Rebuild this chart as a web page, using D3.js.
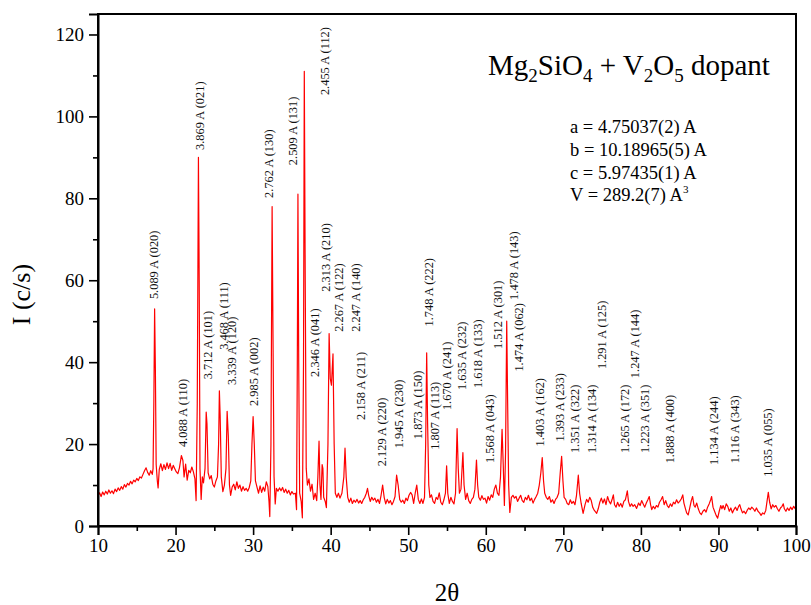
<!DOCTYPE html>
<html>
<head>
<meta charset="utf-8">
<script src="https://cdn.jsdelivr.net/npm/d3@7"></script>
<style>
  body { margin: 0; background: #fff; }
  svg { display: block; }
  svg text { font-family: "Liberation Serif", "Times New Roman", serif; }
</style>
</head>
<body>
<svg id="chart"></svg>
<script>
// XRD scan: [2theta, I (c/s)]
const scan = [
  [10.0,7.4],[10.2,8.1],[10.4,7.2],[10.6,8.3],[10.8,7.6],[11.0,8.5],[11.2,7.8],[11.4,8.8],[11.6,8.0],[11.8,8.6],
  [12.0,7.9],[12.2,9.0],[12.4,8.4],[12.6,9.3],[12.8,8.7],[13.0,9.6],[13.2,9.0],[13.4,10.1],[13.6,9.5],[13.8,10.4],
  [14.0,10.0],[14.2,10.9],[14.4,10.3],[14.6,11.2],[14.8,10.8],[15.0,11.6],[15.2,11.1],[15.4,12.0],[15.6,11.7],[15.8,12.6],
  [16.0,13.5],[16.2,14.2],[16.4,13.1],[16.6,12.4],[16.8,13.5],[17.0,12.6],[17.1,14],[17.2,30],[17.3,53],[17.4,38],
  [17.5,15],[17.65,11],[17.75,9.3],[17.9,13.8],[18.1,15.2],[18.3,13.5],[18.5,15.0],[18.7,13.8],[18.9,15.4],[19.1,14.0],
  [19.3,15.3],[19.5,13.6],[19.7,14.8],[19.9,14.0],[20.1,13.2],[20.3,12.8],[20.5,14.2],[20.75,17.2],[20.95,16.0],[21.1,12.0],
  [21.3,15.1],[21.5,11.2],[21.7,13.6],[21.9,13.0],[22.1,14.4],[22.3,13.2],[22.5,11.5],[22.65,6.2],[22.8,30],[22.95,90],
  [23.05,60],[23.15,14],[23.3,6.5],[23.45,12],[23.6,10.5],[23.8,14],[23.95,27.8],[24.05,25],[24.2,13],[24.4,11.5],
  [24.6,12.3],[24.8,10.2],[25.0,9.5],[25.2,11],[25.4,12],[25.55,20],[25.65,33],[25.75,27],[25.9,12],[26.1,8.4],
  [26.3,10],[26.5,14],[26.65,28],[26.8,22],[26.95,10],[27.1,7.5],[27.3,9.5],[27.5,10.2],[27.7,8.8],[27.9,10.8],
  [28.1,9.2],[28.3,10.0],[28.5,8.5],[28.7,9.6],[28.9,8.7],[29.1,9.2],[29.3,8.5],[29.5,9.4],[29.7,11],[29.85,20],
  [30.0,26.7],[30.15,20],[30.3,11],[30.5,9.5],[30.7,8.0],[30.9,9.8],[31.1,8.2],[31.3,9.5],[31.5,8.5],[31.7,10.8],
  [31.9,9.6],[32.05,6],[32.15,2.3],[32.3,20],[32.45,78],[32.55,50],[32.7,12],[32.85,5.4],[33.0,9.2],[33.2,8.5],
  [33.4,9.3],[33.6,8.6],[33.8,9.4],[34.0,8.2],[34.2,9.0],[34.4,8.0],[34.6,8.7],[34.8,7.6],[35.0,8.4],[35.2,7.8],
  [35.45,8],[35.6,4],[35.7,40],[35.78,81],[35.88,40],[36.0,8],[36.2,6],[36.35,2],[36.5,40],[36.6,111],
  [36.72,60],[36.85,14],[37.0,10],[37.2,11.5],[37.4,8.5],[37.6,10.2],[37.8,6.5],[38.0,8.0],[38.2,6.2],[38.35,12],
  [38.5,20.7],[38.62,10],[38.75,6.5],[38.9,15],[39.0,14],[39.1,7],[39.3,6],[39.45,4.5],[39.65,20],[39.8,47],
  [39.95,36],[40.1,34.4],[40.3,42],[40.45,20],[40.6,8],[40.8,7],[41.0,8],[41.2,6.8],[41.45,8],[41.7,12],
  [41.85,19],[42.0,12],[42.2,7],[42.4,5.8],[42.6,6.8],[42.8,5.5],[43.0,6.3],[43.2,5.8],[43.4,6.5],[43.6,5.6],
  [43.8,6.2],[44.0,5.5],[44.2,6.4],[44.4,7.0],[44.6,8.0],[44.75,9.2],[44.9,7.5],[45.1,6.0],[45.3,7.0],[45.5,6.3],
  [45.7,6.8],[45.9,5.8],[46.1,6.5],[46.3,5.5],[46.5,7.5],[46.7,10],[46.9,7],[47.1,5.4],[47.3,6.5],[47.5,5.6],
  [47.7,6.2],[47.9,5.2],[48.1,6.0],[48.3,7.2],[48.5,12.4],[48.7,10],[48.9,6.5],[49.1,5.8],[49.3,6.3],[49.5,5.5],
  [49.7,6.8],[49.9,6.2],[50.1,7.5],[50.3,8.2],[50.5,7.6],[50.7,5.5],[50.9,8.0],[51.1,10],[51.3,6.5],[51.5,5.5],
  [51.7,6.6],[51.9,5.5],[52.1,7],[52.25,20],[52.38,42.3],[52.5,25],[52.65,10],[52.8,7],[53.0,7.6],[53.2,6.0],
  [53.4,5.5],[53.6,7.0],[53.8,6.5],[54.0,8.1],[54.2,5.8],[54.4,5.2],[54.6,6.4],[54.8,8],[54.95,14.7],[55.1,8],
  [55.3,5.5],[55.5,7],[55.7,6],[55.9,5.4],[56.1,8],[56.3,23.8],[56.45,14],[56.6,8],[56.8,9],[57.05,17.9],
  [57.2,10],[57.4,6.5],[57.6,8],[57.8,6.2],[58.0,5.5],[58.2,6.5],[58.4,7],[58.6,9],[58.8,16.1],[58.95,10],
  [59.1,7],[59.3,6.3],[59.5,7.4],[59.7,6.5],[59.9,6.8],[60.1,5.6],[60.3,7.2],[60.5,6.3],[60.7,7.6],[60.9,7],
  [61.1,9],[61.3,10],[61.5,8],[61.7,7.5],[61.9,12],[62.1,23.6],[62.25,15],[62.4,5],[62.55,18],[62.7,50],
  [62.82,30],[62.95,10],[63.1,3.3],[63.3,7],[63.5,7.5],[63.7,6.8],[63.9,7.2],[64.1,6.0],[64.3,6.8],[64.5,7.5],
  [64.7,6.2],[64.9,5.8],[65.1,7.0],[65.3,6.4],[65.5,7.5],[65.7,6.2],[65.9,6.8],[66.1,5.6],[66.3,6.5],[66.5,7.2],
  [66.7,8],[66.9,10],[67.1,13],[67.28,16.7],[67.45,11],[67.6,8],[67.8,7],[68.0,6.5],[68.2,7.2],[68.4,5.8],
  [68.6,6.4],[68.8,5.5],[69.0,6.5],[69.2,7.0],[69.4,8],[69.6,13],[69.78,17],[69.95,11],[70.1,7],[70.3,6.5],
  [70.5,5.5],[70.7,5.2],[70.9,6.4],[71.1,5.5],[71.3,6.0],[71.5,5.2],[71.7,7.5],[71.93,12.4],[72.1,8],[72.3,5.5],
  [72.55,3.1],[72.8,5.2],[73.0,6.5],[73.2,5.8],[73.4,7.0],[73.6,6.2],[73.8,4.5],[74.0,3.8],[74.3,3.1],[74.5,4.2],
  [74.7,5.8],[74.9,6.8],[75.1,5.6],[75.3,6.6],[75.5,5.2],[75.7,7.2],[75.9,6.0],[76.1,5.4],[76.3,6.6],[76.45,7.6],
  [76.6,5.2],[76.8,4.6],[77.0,5.8],[77.2,4.8],[77.4,5.5],[77.6,4.6],[77.8,6.0],[78.0,6.4],[78.25,8.6],[78.4,6.0],
  [78.6,4.8],[78.8,5.4],[79.0,4.8],[79.2,5.2],[79.45,4.3],[79.7,5.6],[79.9,5.0],[80.1,6.2],[80.3,5.4],[80.5,4.6],
  [80.7,5.6],[80.9,6.4],[81.08,7.2],[81.25,5.2],[81.4,4.0],[81.6,4.8],[81.8,4.2],[82.0,5.0],[82.2,4.6],[82.4,5.8],
  [82.6,6.4],[82.8,7.2],[83.0,5.2],[83.2,6.2],[83.4,5.0],[83.6,4.5],[83.8,5.4],[84.0,4.8],[84.2,5.8],[84.4,5.4],
  [84.6,6.4],[84.8,5.6],[85.0,6.0],[85.2,6.6],[85.4,7.6],[85.55,5.6],[85.75,4.2],[85.9,3.2],[86.1,2.7],[86.3,4.4],
  [86.5,6.2],[86.67,7.2],[86.85,5.0],[87.0,4.6],[87.2,5.6],[87.4,4.2],[87.6,3.2],[87.8,2.8],[88.0,3.6],[88.2,4.0],
  [88.4,3.4],[88.6,4.6],[88.8,5.4],[89.0,6.4],[89.12,7.2],[89.3,4.6],[89.5,3.6],[89.7,2.6],[89.9,1.9],[90.1,3.6],
  [90.3,5.0],[90.45,4.2],[90.6,5.0],[90.8,4.0],[91.0,5.4],[91.2,4.8],[91.4,3.6],[91.6,4.4],[91.8,3.2],[92.0,4.0],
  [92.2,4.6],[92.4,3.8],[92.6,4.8],[92.75,5.2],[92.9,4.2],[93.1,3.2],[93.3,3.6],[93.5,3.0],[93.7,3.8],[93.9,4.4],
  [94.1,4.0],[94.3,4.6],[94.5,4.2],[94.7,3.6],[94.9,4.4],[95.1,3.6],[95.3,3.2],[95.5,2.6],[95.7,3.2],[95.9,2.9],
  [96.1,3.8],[96.3,6.5],[96.43,8.2],[96.6,5.8],[96.8,4.2],[97.0,5.2],[97.2,4.6],[97.4,5.0],[97.6,4.2],[97.8,3.6],
  [98.0,4.4],[98.2,4.8],[98.36,5.4],[98.5,4.2],[98.7,3.6],[98.9,4.4],[99.1,3.8],[99.3,4.6],[99.5,4.0],[99.7,4.8],
  [99.9,4.2],[100.0,4.4]
];

// peak labels: text, 2theta of label, intensity where the label starts
const peakLabels = [
  ["5.089 A (020)", 17.22, 55.4],
  ["4.088 A (110)", 20.96, 19.3],
  ["3.869 A (021)", 23.15, 91.8],
  ["3.712 A (101)", 24.09, 35.8],
  ["3.468 A (111)", 26.16, 43.0],
  ["3.339 A (120)", 27.24, 34.4],
  ["2.985 A (002)", 30.11, 29.3],
  ["2.762 A (130)", 31.96, 80.1],
  ["2.509 A (131)", 35.05, 88.1],
  ["2.455 A (112)", 39.27, 105.2],
  ["2.346 A (041)", 37.98, 36.4],
  ["2.313 A (210)", 39.40, 57.2],
  ["2.267 A (122)", 40.98, 47.4],
  ["2.247 A (140)", 43.26, 47.4],
  ["2.158 A (211)", 43.91, 25.9],
  ["2.129 A (220)", 46.58, 14.6],
  ["1.945 A (230)", 48.72, 19.0],
  ["1.873 A (150)", 51.17, 21.2],
  ["1.748 A (222)", 52.59, 48.7],
  ["1.807 A (113)", 53.39, 18.6],
  ["1.670 A (241)", 54.96, 28.3],
  ["1.635 A (232)", 56.89, 33.2],
  ["1.618 A (133)", 58.90, 33.7],
  ["1.568 A (043)", 60.45, 15.4],
  ["1.512 A (301)", 61.48, 43.2],
  ["1.478 A (143)", 63.55, 55.2],
  ["1.474 A (062)", 64.19, 37.7],
  ["1.403 A (162)", 66.99, 19.4],
  ["1.393 A (233)", 69.57, 20.6],
  ["1.351 A (322)", 71.50, 17.8],
  ["1.314 A (134)", 73.65, 17.8],
  ["1.291 A (125)", 74.94, 38.3],
  ["1.265 A (172)", 77.95, 17.8],
  ["1.247 A (144)", 79.24, 36.1],
  ["1.223 A (351)", 80.53, 17.8],
  ["1.888 A (400)", 83.75, 15.3],
  ["1.134 A (244)", 89.33, 14.9],
  ["1.116 A (343)", 92.04, 15.3],
  ["1.035 A (055)", 96.35, 12.0]
];

const xTicks = [10, 20, 30, 40, 50, 60, 70, 80, 90, 100];
const xMinor = [15, 25, 35, 45, 55, 65, 75, 85, 95];
const yTicks = [0, 20, 40, 60, 80, 100, 120];
const yMinor = [10, 30, 50, 70, 90, 110];

const cellLines = ["a = 4.75037(2) A", "b = 10.18965(5) A", "c = 5.97435(1) A"];

const width = 811, height = 605;
const margin = {left: 98, right: 15, top: 14, bottom: 79};
const serif = '"Liberation Serif", "Times New Roman", serif';

const svg = d3.select("#chart").attr("width", width).attr("height", height);

const x = d3.scaleLinear().domain([10, 100]).range([margin.left, width - margin.right]);
const y = d3.scaleLinear().domain([0, 125]).range([height - margin.bottom, margin.top]);

svg.append("clipPath").attr("id", "plotclip")
  .append("rect")
  .attr("x", x(10)).attr("y", y(125))
  .attr("width", x(100) - x(10)).attr("height", y(0) - y(125));

// the scan
const line = d3.line().x(d => x(d[0])).y(d => y(d[1]));
svg.append("path")
  .datum(scan)
  .attr("clip-path", "url(#plotclip)")
  .attr("fill", "none")
  .attr("stroke", "#ff0000")
  .attr("stroke-width", 1.2)
  .attr("stroke-linejoin", "round")
  .attr("d", line);

// frame
svg.append("rect")
  .attr("x", x(10)).attr("y", y(125))
  .attr("width", x(100) - x(10)).attr("height", y(0) - y(125))
  .attr("fill", "none").attr("stroke", "#000").attr("stroke-width", 2);

// axes
svg.append("g")
  .attr("transform", `translate(0,${y(0)})`)
  .call(d3.axisBottom(x).tickValues(xTicks).tickSize(9).tickPadding(4).tickFormat(d3.format("d")));
svg.append("g")
  .attr("transform", `translate(0,${y(0)})`)
  .call(d3.axisBottom(x).tickValues(xMinor).tickSize(5).tickFormat(""))
  .select(".domain").remove();

svg.append("g")
  .attr("transform", `translate(${x(10)},0)`)
  .call(d3.axisLeft(y).tickValues(yTicks).tickSize(9).tickPadding(5).tickFormat(d3.format("d")));
svg.append("g")
  .attr("transform", `translate(${x(10)},0)`)
  .call(d3.axisLeft(y).tickValues(yMinor).tickSize(5).tickFormat(""))
  .select(".domain").remove();

svg.selectAll(".domain").attr("stroke-width", 2);
svg.selectAll(".tick line").attr("stroke-width", 1.6);
svg.selectAll(".tick text")
  .attr("font-family", serif)
  .attr("font-size", 19)
  .attr("fill", "#000");

// axis titles
svg.append("text")
  .attr("x", x(55)).attr("y", 601)
  .attr("text-anchor", "middle")
  .attr("font-family", serif)
  .attr("font-size", 25)
  .text("2θ");

svg.append("text")
  .attr("transform", `translate(30,${y(56.5)}) rotate(-90)`)
  .attr("text-anchor", "middle")
  .attr("font-family", serif)
  .attr("font-size", 26)
  .text("I (c/s)");

// peak annotations
svg.append("g").selectAll("text")
  .data(peakLabels)
  .enter()
  .append("text")
  .attr("transform", d => `translate(${x(d[1])},${y(d[2])}) rotate(-90)`)
  .attr("dy", "0.35em")
  .attr("font-family", serif)
  .attr("font-size", 12.4)
  .attr("fill", "#111")
  .text(d => d[0]);

// title with subscripts
const title = svg.append("text")
  .attr("x", 488).attr("y", 75)
  .attr("font-family", serif)
  .attr("font-size", 29)
  .attr("fill", "#000");
const titleParts = [["Mg", false], ["2", true], ["SiO", false], ["4", true], [" + V", false], ["2", true], ["O", false], ["5", true], [" dopant", false]];
let lowered = false;
titleParts.forEach(p => {
  const shift = p[1] ? (lowered ? 0 : 7) : (lowered ? -7 : 0);
  lowered = p[1];
  title.append("tspan")
    .attr("font-size", p[1] ? 19 : 29)
    .attr("dy", shift)
    .text(p[0]);
});

// lattice parameters
const cell = svg.append("g").attr("font-family", serif).attr("font-size", 18.5).attr("fill", "#000");
cell.selectAll("text")
  .data(cellLines)
  .enter()
  .append("text")
  .attr("x", 570)
  .attr("y", (d, i) => 133 + i * 22.8)
  .text(d => d);
const vol = cell.append("text").attr("x", 570).attr("y", 133 + 3 * 22.8);
vol.append("tspan").text("V = 289.2(7) A");
vol.append("tspan").attr("font-size", 11).attr("dy", -8).text("3");
</script>
</body>
</html>
